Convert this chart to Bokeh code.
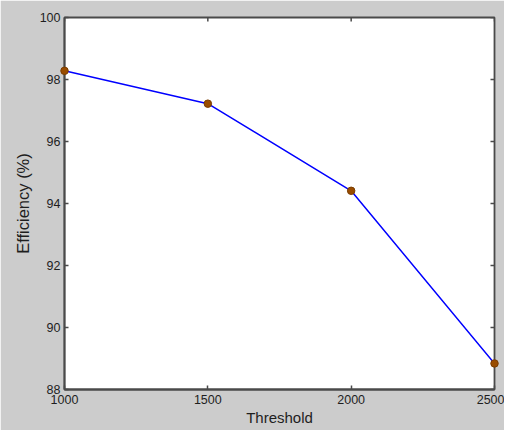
import math
from bokeh.plotting import figure
from bokeh.models import FixedTicker, Range1d
from bokeh.embed import file_html
from bokeh.resources import INLINE

thresholds = [1000, 1500, 2000, 2500]
efficiency = [98.28, 97.22, 94.41, 88.84]
x_ticks = [1000, 1500, 2000, 2500]
y_ticks = [88, 90, 92, 94, 96, 98, 100]
x_min, x_max = 1000, 2500
y_min, y_max = 88, 100

FONT = "Liberation Sans"
AX = "#4a4a4a"
TXT = "#1e1e1e"

p = figure(width=504, height=430, output_backend="svg", toolbar_location=None,
           x_range=Range1d(x_min, x_max), y_range=Range1d(y_min, y_max),
           min_border_left=64, min_border_right=10, min_border_top=17, min_border_bottom=41,
           background_fill_color="white", border_fill_color="#cccccc")
p.outline_line_color = AX
p.outline_line_width = 1.8
p.xgrid.visible = False
p.ygrid.visible = False

p.xaxis.ticker = FixedTicker(ticks=x_ticks)
p.yaxis.ticker = FixedTicker(ticks=y_ticks)
for ax in (p.xaxis[0], p.yaxis[0]):
    ax.major_tick_in = 4
    ax.major_tick_out = 0
    ax.minor_tick_line_color = None
    ax.axis_line_color = AX
    ax.axis_line_width = 1.8
    ax.major_tick_line_color = AX
    ax.major_tick_line_width = 1.5
    ax.major_label_text_font = FONT
    ax.major_label_text_font_size = "12.5px"
    ax.major_label_text_color = TXT
    ax.axis_label_text_font = FONT
    ax.axis_label_text_font_size = "15px"
    ax.axis_label_text_font_style = "normal"
    ax.axis_label_text_color = TXT

p.xaxis.axis_label = "Threshold"
p.yaxis.axis_label = "Efficiency (%)"
p.yaxis.axis_label_text_font_size = "16.5px"
p.xaxis.major_label_standoff = 5
p.xaxis.axis_label_standoff = 2
p.yaxis.major_label_standoff = 4
p.yaxis.axis_label_standoff = 5

# inner ticks on the right and top edges of the box
p.ray(x=[x_max] * len(y_ticks), y=y_ticks, length=4, length_units="screen",
      angle=math.pi, line_color=AX, line_width=1.5)
p.ray(x=x_ticks, y=[y_max] * len(x_ticks), length=4, length_units="screen",
      angle=-math.pi / 2, line_color=AX, line_width=1.5)

p.line(thresholds, efficiency, line_color="#0000ff", line_width=1.5)
p.scatter(thresholds, efficiency, size=7.5, fill_color="#994c00", line_color="#7a3d00",
          level="overlay")

open("out.html", "w").write(file_html(p, INLINE))
